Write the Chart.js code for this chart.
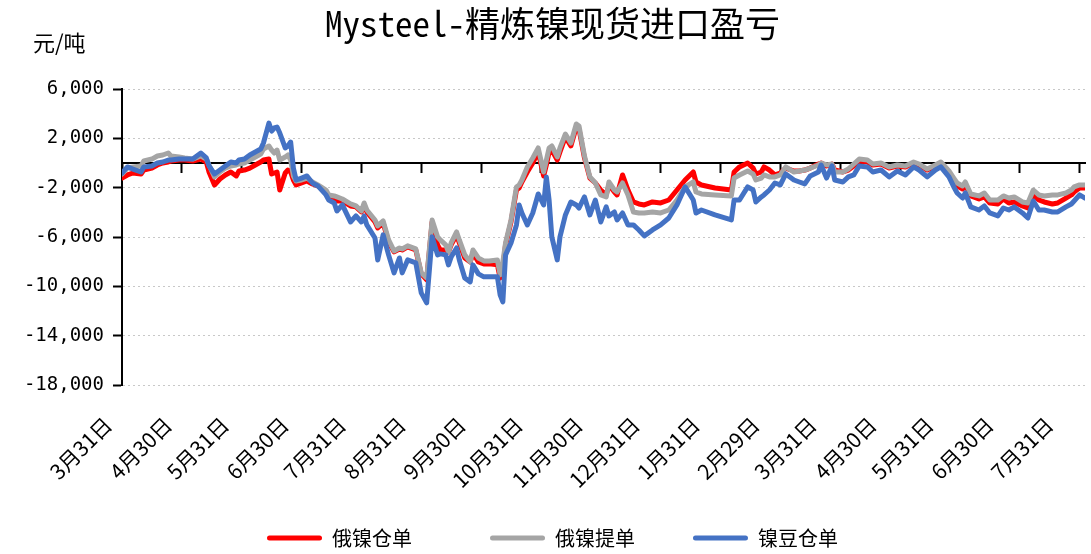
<!DOCTYPE html>
<html lang="zh-CN">
<head>
<meta charset="UTF-8">
<title>Mysteel-精炼镍现货进口盈亏</title>
<style>
  *{margin:0;padding:0}
  body{background:#fff}
</style>
</head>
<body>
<canvas id="chart" width="1091" height="554"></canvas>

<script src="https://cdn.jsdelivr.net/npm/chart.js@4.4.0"></script>
<script>
/* trading-day index of each sampled point */
const day = [0,2,4,7,8,11,13,15,17,18,21,23,26,29,31,32,34,36,38,40,42,43,45,47,49,51,52,54,55,56,57,58,60,61,62,63,64,66,68,70,72,75,76,78,79,81,84,86,88,89,90,93,94,96,98,100,102,103,105,108,110,112,114,116,117,119,120,121,123,124,126,128,129,131,133,135,138,139,140,141,143,145,146,147,149,151,153,155,156,157,158,160,161,163,165,167,168,170,172,174,176,178,179,181,182,184,186,188,190,192,195,198,201,204,207,210,211,213,218,224,225,227,230,232,233,235,236,238,240,242,244,247,249,251,253,256,257,259,261,262,265,267,269,271,274,276,279,282,285,288,291,293,296,299,301,304,306,307,309,310,312,315,317,319,322,324,326,328,331,333,335,337,339,342,344,347,349,350,352,354];

/* 俄镍仓单 */
const ruCang = [-1220,-970,-810,-890,-570,-410,-160,0,80,160,240,240,160,320,80,-730,-1780,-1300,-970,-730,-1050,-650,-570,-410,-160,80,240,320,-890,-810,-730,-2190,-810,-570,-730,-1380,-1780,-1620,-1460,-1700,-1860,-2350,-2750,-2920,-3080,-3080,-3480,-3560,-3970,-3400,-3970,-4780,-5270,-4860,-6400,-7210,-6970,-7050,-6800,-7050,-8990,-9480,-4780,-6640,-7050,-7050,-7210,-6640,-5830,-6480,-7700,-8020,-7290,-8020,-8180,-8180,-8260,-9320,-8510,-6640,-4780,-2190,-2030,-1540,-730,0,890,-1050,-160,890,1050,240,890,2110,1380,2920,2750,410,-1220,-1620,-2190,-2590,-1780,-2350,-2590,-970,-2190,-3160,-3320,-3400,-3160,-3240,-3000,-2190,-1380,-730,-1540,-1780,-2030,-2190,-730,-320,0,-410,-890,-730,-320,-570,-970,-810,-410,-650,-650,-570,-410,-80,0,-240,-80,-570,-730,-570,-240,160,80,-160,-80,-410,-240,-320,0,-160,-570,-240,0,-730,-1460,-1860,-2110,-1780,-2670,-2920,-2750,-3240,-3320,-2920,-3240,-3160,-3480,-3650,-2590,-3000,-3160,-3320,-3240,-2840,-2590,-2350,-2030,-2030];

/* 俄镍提单 */
const ruTi = [-890,-410,-320,-240,160,320,570,650,810,570,490,410,320,570,320,-160,-1130,-730,-410,-240,-160,-80,0,240,490,730,1130,1380,1050,810,1050,240,490,650,240,-1050,-1460,-1380,-1220,-1540,-1780,-2190,-2590,-2670,-2750,-2920,-3320,-3480,-3890,-3240,-3810,-4620,-5100,-4700,-6240,-7130,-6890,-6970,-6720,-6970,-8910,-9320,-4620,-5990,-6240,-6640,-7210,-6480,-5590,-6240,-7450,-8020,-7050,-7700,-7940,-7940,-7860,-9070,-8020,-6480,-4620,-1940,-1780,-1380,-320,410,1220,-730,240,1220,1380,490,1220,2350,1620,3160,3000,570,-1130,-1620,-2590,-2750,-1540,-2190,-2350,-1620,-2590,-3970,-4050,-4050,-3970,-4050,-3810,-3000,-1940,-1540,-2350,-2510,-2590,-2670,-1220,-970,-650,-890,-1380,-1220,-970,-1130,-1130,-970,-320,-730,-650,-570,-410,-160,0,-160,-80,-730,-730,-490,-80,320,240,-80,0,-320,-160,-240,80,-80,-490,-160,80,-650,-1300,-1620,-1860,-1540,-2510,-2670,-2430,-3000,-3000,-2670,-2840,-2750,-3160,-3240,-2190,-2590,-2670,-2590,-2590,-2430,-2190,-1940,-1780,-1780];

/* 镍豆仓单 */
const douCang = [-810,-320,-490,-730,-320,-240,0,80,240,240,320,320,320,810,410,-240,-890,-570,-240,80,0,240,320,650,890,1130,1620,3240,2590,2840,2920,2430,1220,1380,1700,-410,-1380,-1220,-1050,-1620,-1860,-2590,-3000,-3240,-3890,-3400,-4780,-4290,-4780,-4290,-5020,-6080,-7860,-5830,-7450,-8910,-7700,-8910,-7860,-8100,-10530,-11340,-5990,-7450,-7370,-7450,-8260,-7610,-6890,-7860,-9320,-9640,-8260,-8990,-9230,-9230,-9230,-10690,-11260,-7450,-6480,-5020,-3400,-4050,-5020,-4050,-2510,-3400,-1130,-3000,-5990,-7860,-5990,-4210,-3160,-3400,-3650,-2750,-4210,-3000,-4780,-3560,-4290,-3970,-4620,-4050,-5020,-5020,-5430,-5910,-5430,-5020,-4460,-3400,-1940,-3000,-4050,-3810,-4210,-4620,-3000,-3000,-1940,-2190,-3160,-2750,-2590,-2190,-1620,-1780,-890,-1380,-1540,-1700,-1050,-730,-160,-1220,-240,-1380,-1540,-1130,-970,-240,-320,-730,-570,-1130,-650,-970,-320,-570,-1130,-570,-320,-1130,-2030,-2430,-2840,-2430,-3560,-3810,-3480,-4050,-4290,-3650,-3810,-3560,-4050,-4460,-3080,-3810,-3810,-3970,-3970,-3560,-3320,-3080,-2590,-2840];

/* axis ticks and labels */
const tickDays = [0,22,44,66,88,110,132,154,176,198,220,242,264,286,308,330,352];
const labelDays = [0,22,43,65,86,108,130,151,173,194,216,238,259,281,302,324,346];
const monthLabels = ['3月31日','4月30日','5月31日','6月30日','7月31日','8月31日','9月30日','10月31日','11月30日','12月31日','1月31日','2月29日','3月31日','4月30日','5月31日','6月30日','7月31日'];
const yTicks = [6000,2000,-2000,-6000,-10000,-14000,-18000];

const CJK = '"Noto Sans CJK SC", "Noto Sans", sans-serif';
const pts = arr => arr.map((v,i)=>({x:day[i], y:v}));
// extra spacing after legend entries (ideographic spaces)
const legendGap = ['\u3000\u3000\u3000', '\u3000\u3000', ''];

// unit text above the y axis
const unitLabel = {
  id:'unitLabel',
  afterDraw(chart){
    const {ctx, chartArea} = chart;
    ctx.save();
    ctx.font = '22px ' + CJK;
    ctx.fillStyle = '#000';
    ctx.textBaseline = 'middle';
    ctx.fillText('元/吨', chartArea.left - 89, chartArea.top - 46);
    ctx.restore();
  }
};

new Chart(document.getElementById('chart'), {
  type:'line',
  data:{datasets:[
    {label:'俄镍仓单', data:pts(ruCang), borderColor:'#ff0000', backgroundColor:'#ff0000', order:3},
    {label:'俄镍提单', data:pts(ruTi), borderColor:'#a5a5a5', backgroundColor:'#a5a5a5', order:2},
    {label:'镍豆仓单', data:pts(douCang), borderColor:'#4472c4', backgroundColor:'#4472c4', order:1}
  ]},
  options:{
    responsive:false, animation:false,
    layout:{padding:{left:20,right:6,top:0,bottom:0}},
    elements:{
      line:{borderWidth:5, tension:0, borderJoinStyle:'round', borderCapStyle:'round'},
      point:{radius:0}
    },
    scales:{
      x:{type:'linear', position:{y:0}, min:0, max:354,
        afterBuildTicks: s => { s.ticks = tickDays.map(v=>({value:v})); },
        ticks:{display:false},
        grid:{drawOnChartArea:false, drawTicks:true, tickLength:9, tickColor:'#000', tickWidth:2},
        border:{color:'#000', width:2}},
      xl:{type:'linear', position:'bottom', min:0, max:354,
        afterBuildTicks: s => { s.ticks = labelDays.map(v=>({value:v})); },
        afterFit: s => { s.height = 125; },
        ticks:{autoSkip:false, minRotation:45, maxRotation:45, padding:8, labelOffset:-14,
          color:'#000', font:{family:CJK, size:21},
          callback:(v,i)=>monthLabels[i]},
        grid:{display:true, drawOnChartArea:false, drawTicks:true, tickLength:19,
          color:'rgba(0,0,0,0)', tickColor:'rgba(0,0,0,0)'},
        border:{display:false}},
      y:{min:-18000, max:6000,
        afterBuildTicks: s => { s.ticks = yTicks.map(v=>({value:v})); },
        afterFit: s => { s.width = 102; },
        ticks:{padding:9, color:'#000', font:{family:'"DejaVu Sans Mono", monospace', size:19},
          callback:v=>v.toLocaleString('en-US')},
        grid:{color:'#c8c8c8', lineWidth:1, tickColor:'#000', tickLength:9, tickWidth:2},
        border:{color:'#000', width:2, dash:[2,3]}}
    },
    plugins:{
      title:{display:true, text:'Mysteel-精炼镍现货进口盈亏', color:'#000',
        font:{family:'"Noto Sans Mono CJK SC", "DejaVu Sans Mono", monospace', size:35, weight:'normal'},
        padding:{top:3, bottom:44}},
      legend:{position:'bottom', maxHeight:44,
        labels:{boxWidth:55, boxHeight:5, padding:18, color:'#000', useBorderRadius:true,
          font:{family:CJK, size:20},
          sort:(a,b)=>a.datasetIndex-b.datasetIndex,
          generateLabels: chart => Chart.defaults.plugins.legend.labels.generateLabels(chart)
            .map(l => ({...l, text: l.text + legendGap[l.datasetIndex], lineWidth:0, borderRadius:2.5}))}},
      tooltip:{enabled:false}
    }
  },
  plugins:[unitLabel]
});
</script>
</body>
</html>
